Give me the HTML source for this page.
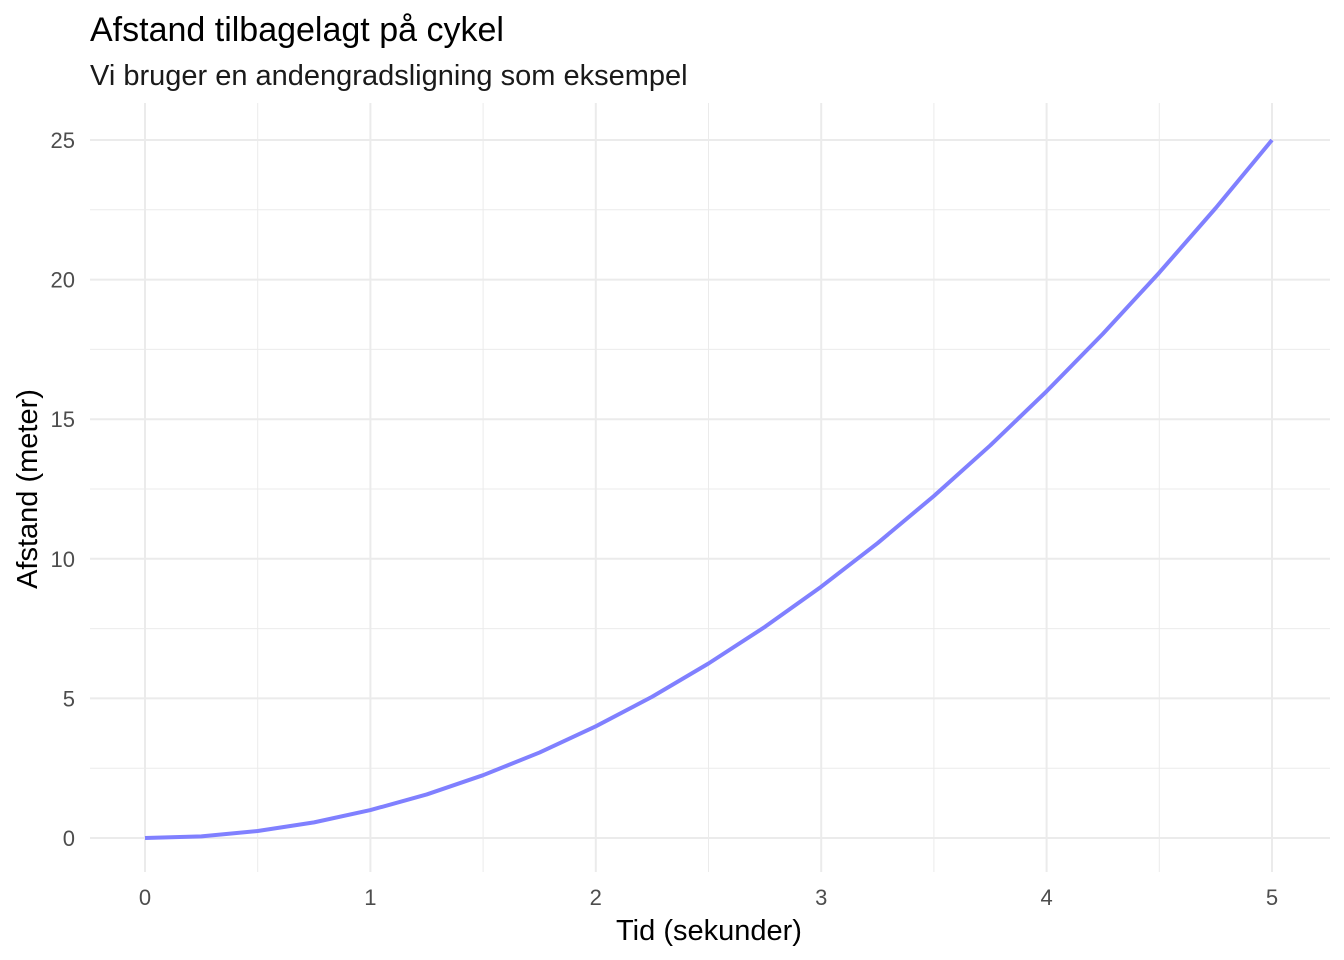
<!DOCTYPE html>
<html><head><meta charset="utf-8"><style>
html,body{margin:0;padding:0;background:#fff;}
svg{display:block;font-family:"Liberation Sans",Arial,sans-serif;}
</style></head><body>
<svg id="chart" width="1344" height="960">
<text x="90" y="41" font-size="34" fill="#000">Afstand tilbagelagt på cykel</text>
<text x="90" y="85" font-size="29" fill="#1a1a1a">Vi bruger en andengradsligning som eksempel</text>
<g id="grid"></g>
<g id="ticks"></g>
<path id="line" fill="none" stroke="#8080ff" stroke-width="4" stroke-linejoin="round"></path>
<text x="709" y="940" font-size="29" text-anchor="middle" fill="#000">Tid (sekunder)</text>
<text transform="translate(37,489) rotate(-90)" font-size="29" text-anchor="middle" fill="#000">Afstand (meter)</text>
</svg>
<script>
const times = [0,0.25,0.5,0.75,1,1.25,1.5,1.75,2,2.25,2.5,2.75,3,3.25,3.5,3.75,4,4.25,4.5,4.75,5];
const distances = [0,0.06,0.25,0.56,1,1.56,2.25,3.06,4,5.06,6.25,7.56,9,10.56,12.25,14.06,16,18.06,20.25,22.56,25];
const xTicks = [0,1,2,3,4,5];
const yTicks = [0,5,10,15,20,25];
const xMinor = [0.5,1.5,2.5,3.5,4.5];
const yMinor = [2.5,7.5,12.5,17.5,22.5];
const L=90,R=1330,T=103,B=872;
const sx=v=>145+v*(1272-145)/5;
const sy=v=>838-v*(838-140)/25;
const ns="http://www.w3.org/2000/svg";
const grid=document.getElementById('grid'), ticks=document.getElementById('ticks');
function ln(x1,y1,x2,y2,w,name){const e=document.createElementNS(ns,'line');
e.setAttribute('x1',x1);e.setAttribute('y1',y1);e.setAttribute('x2',x2);e.setAttribute('y2',y2);
e.setAttribute('stroke','#ebebeb');e.setAttribute('stroke-width',w);


grid.appendChild(e);}
xMinor.forEach(v=>ln(sx(v),T,sx(v),B,1,'x-minor-gridline'));
yMinor.forEach(v=>ln(L,sy(v),R,sy(v),1,'y-minor-gridline'));
xTicks.forEach(v=>ln(sx(v),T,sx(v),B,2,'x-major-gridline'));
yTicks.forEach(v=>ln(L,sy(v),R,sy(v),2,'y-major-gridline'));
function tx(x,y,s,anchor,name){const e=document.createElementNS(ns,'text');
e.setAttribute('x',x);e.setAttribute('y',y);e.setAttribute('font-size','22');e.setAttribute('fill','#4d4d4d');
e.setAttribute('text-anchor',anchor);e.textContent=s;


ticks.appendChild(e);}
xTicks.forEach(v=>tx(sx(v),905,v,'middle','x-tick-label'));
yTicks.forEach(v=>tx(75,sy(v)+8,v,'end','y-tick-label'));
document.getElementById('line').setAttribute('d',times.map((t,i)=>(i?'L':'M')+sx(t)+','+sy(distances[i])).join(''));
</script>
</body></html>
